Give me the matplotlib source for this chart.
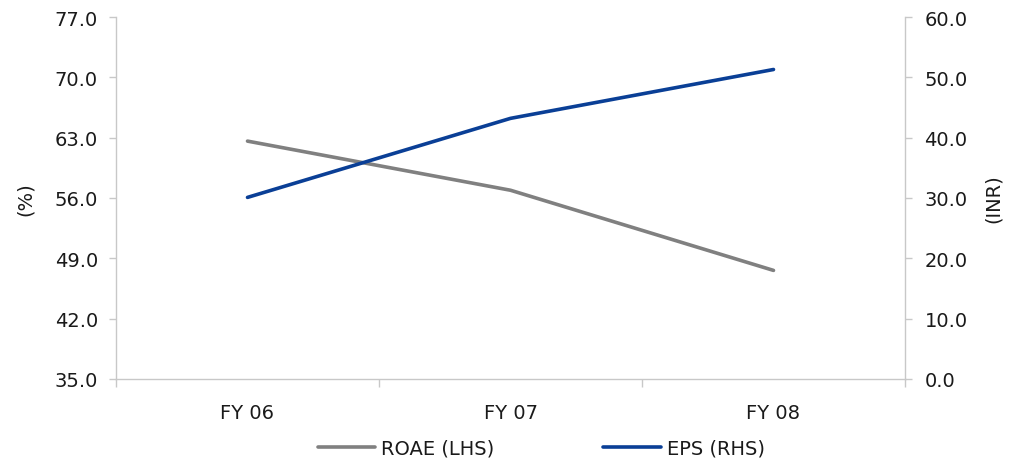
import matplotlib
matplotlib.use("Agg")
import matplotlib.pyplot as plt
import numpy as np

# Data
years = ["FY 06", "FY 07", "FY 08"]
roae = [62.6, 56.9, 47.6]   # %, left axis
eps = [30.1, 43.2, 51.3]    # INR, right axis

left_ticks = [35.0, 42.0, 49.0, 56.0, 63.0, 70.0, 77.0]
right_ticks = [0.0, 10.0, 20.0, 30.0, 40.0, 50.0, 60.0]

GRAY = "#808080"
BLUE = "#0a3f96"
AXC = "#c8c8c8"
TXT = "#1a1a1a"
FS = 14

plt.rcParams["font.family"] = ["DejaVu Sans"]

fig = plt.figure(figsize=(10.21, 4.64), dpi=100)
ax = fig.add_axes([116 / 1021, 84 / 464, 789 / 1021, 362 / 464])
ax2 = ax.twinx()

x = np.arange(len(years))
l1, = ax.plot(x, roae, color=GRAY, lw=2.6, solid_capstyle="round", label="ROAE (LHS)")
l2, = ax2.plot(x, eps, color=BLUE, lw=2.6, solid_capstyle="round", label="EPS (RHS)")

ax.set_xlim(-0.5, len(years) - 0.5)
ax.set_ylim(35, 77)
ax2.set_ylim(0, 60)
ax.set_yticks(left_ticks)
ax.set_yticklabels([f"{v:.1f}" for v in left_ticks])
ax2.set_yticks(right_ticks)
ax2.set_yticklabels([f"{v:.1f}" for v in right_ticks])

# Category labels centred, tick marks on category boundaries
ax.set_xticks(x)
ax.set_xticklabels(years)
ax.set_xticks(np.arange(-0.5, len(years), 1.0), minor=True)
ax.tick_params(axis="x", which="major", length=0, pad=17, labelsize=FS, labelcolor=TXT)
ax.tick_params(axis="x", which="minor", length=6, color=AXC, width=1, direction="out")

ax.tick_params(axis="y", length=5, color=AXC, width=1, pad=8, labelsize=FS, labelcolor=TXT)
ax2.tick_params(axis="y", length=5, color=AXC, width=1, pad=9, labelsize=FS, labelcolor=TXT)

for a in (ax, ax2):
    for side, sp in a.spines.items():
        sp.set_color(AXC)
        sp.set_linewidth(1)
    a.spines["top"].set_visible(False)
ax2.spines["left"].set_visible(False)
ax2.spines["bottom"].set_visible(False)
ax.spines["right"].set_visible(False)

ax.set_ylabel("(%)", fontsize=FS, color=TXT, labelpad=14)
ax2.set_ylabel("(INR)", fontsize=FS, color=TXT, rotation=90, labelpad=12)

fig.legend(handles=[l1, l2], loc="center left", bbox_to_anchor=(318 / 1021, 15 / 464),
           ncol=2, frameon=False, fontsize=FS, handlelength=2.95,
           handletextpad=0.3, columnspacing=5.6, labelcolor=TXT,
           borderpad=0, borderaxespad=0)

fig.savefig("out.png", dpi=100)
